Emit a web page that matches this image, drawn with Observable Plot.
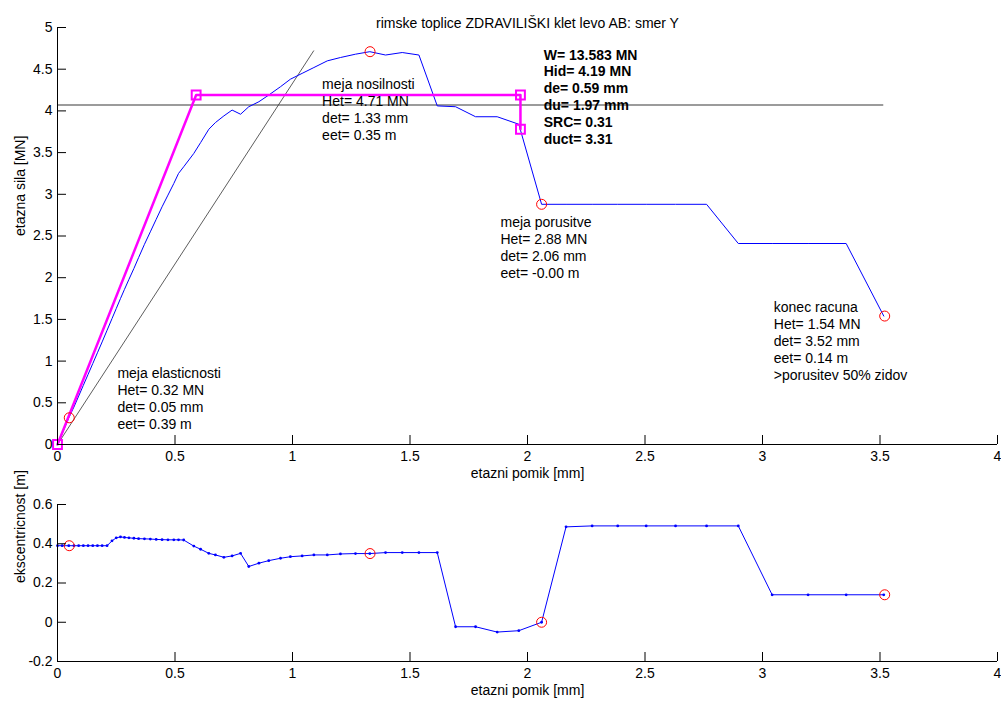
<!DOCTYPE html>
<html><head><meta charset="utf-8">
<script src="https://cdn.jsdelivr.net/npm/d3@7"></script>
<script src="https://cdn.jsdelivr.net/npm/@observablehq/plot@0.6"></script>
<style>
body{margin:0;background:#fff;}
#wrap{width:1001px;height:702px;position:relative;overflow:hidden;background:#fff}
#wrap svg{display:block}
</style></head><body><div id="wrap"></div>
<script>
const naslov = "rimske toplice ZDRAVILIŠKI klet levo AB: smer Y";
const oznakaX = "etazni pomik [mm]";
const oznakaSila = "etazna sila [MN]";
const oznakaEksc = "ekscentricnost [m]";

// analysis steps: storey displacement [mm]
const pomik = [0, 0.02, 0.048, 0.07, 0.09, 0.11, 0.13, 0.15, 0.17, 0.19,
  0.211, 0.232, 0.25, 0.268, 0.285, 0.304, 0.325, 0.345, 0.37, 0.395,
  0.42, 0.445, 0.47, 0.495, 0.515, 0.537, 0.58, 0.609, 0.644, 0.672,
  0.708, 0.743, 0.779, 0.814, 0.857, 0.899, 0.949, 0.991, 1.041, 1.091,
  1.148, 1.204, 1.268, 1.329, 1.396, 1.467, 1.538, 1.616, 1.694, 1.779,
  1.871, 1.963, 2.06, 2.164, 2.275, 2.384, 2.505, 2.63, 2.762, 2.897,
  3.041, 3.194, 3.356, 3.516];
// storey force [MN]
const sila = [0, 0.13, 0.32, 0.45, 0.58, 0.71, 0.84, 0.97, 1.10, 1.23,
  1.37, 1.51, 1.63, 1.75, 1.86, 1.98, 2.11, 2.24, 2.40, 2.55,
  2.70, 2.85, 2.99, 3.13, 3.25, 3.33, 3.49, 3.62, 3.78, 3.86,
  3.94, 4.01, 3.96, 4.05, 4.11, 4.19, 4.29, 4.38, 4.45, 4.52,
  4.60, 4.64, 4.68, 4.71, 4.67, 4.70, 4.67, 4.06, 4.05, 3.93,
  3.93, 3.84, 2.88, 2.88, 2.88, 2.88, 2.88, 2.88, 2.88, 2.41,
  2.41, 2.41, 2.41, 1.54];
// eccentricity [m]
const ekscentricnost = [0.39, 0.39, 0.39, 0.39, 0.39, 0.39, 0.39, 0.39, 0.39, 0.39,
  0.39, 0.415, 0.43, 0.435, 0.432, 0.43, 0.428, 0.426, 0.425, 0.424,
  0.422, 0.421, 0.42, 0.42, 0.42, 0.419, 0.388, 0.372, 0.351, 0.343,
  0.331, 0.338, 0.351, 0.284, 0.301, 0.314, 0.326, 0.334, 0.338, 0.343,
  0.343, 0.348, 0.35, 0.35, 0.355, 0.355, 0.355, 0.355, -0.023, -0.023,
  -0.05, -0.043, 0.0, 0.486, 0.491, 0.491, 0.491, 0.491, 0.491, 0.491,
  0.14, 0.14, 0.14, 0.14];

const xTicks = [0, 0.5, 1, 1.5, 2, 2.5, 3, 3.5, 4];
const silaTicks = [0, 0.5, 1, 1.5, 2, 2.5, 3, 3.5, 4, 4.5, 5];
const ekscTicks = [-0.2, 0, 0.2, 0.4, 0.6];

// idealized bilinear curve
const idealPomik = [0, 0.59, 1.97, 1.97];
const idealSila = [0, 4.19, 4.19, 3.78];
// characteristic points
const tockePomik = [0.05, 1.33, 2.06, 3.52];
const tockeSila = [0.32, 4.71, 2.88, 1.54];
const tockeEksc = [0.39, 0.35, 0.00, 0.14];
// secant line
const sekantaPomik = [0, 1.09];
const sekantaSila = [0, 4.72];
const mejnaSila = 4.07;

const oznakeBesedilo = [
  "meja elasticnosti\nHet= 0.32 MN\ndet= 0.05 mm\neet= 0.39 m",
  "meja nosilnosti\nHet= 4.71 MN\ndet= 1.33 mm\neet= 0.35 m",
  "meja porusitve\nHet= 2.88 MN\ndet= 2.06 mm\neet= -0.00 m",
  "konec racuna\nHet= 1.54 MN\ndet= 3.52 mm\neet= 0.14 m\n>porusitev 50% zidov"
];
const oznakePomik = [0.255, 1.126, 1.885, 3.048];
const oznakeSila = [0.945, 4.41, 2.755, 1.735];
const povzetek = ["W= 13.583 MN\nHid= 4.19 MN\nde= 0.59 mm\ndu= 1.97 mm\nSRC= 0.31\nduct= 3.31"];
const povzetekPomik = [2.069];
const povzetekSila = [4.76];

const font = "'Liberation Sans', Arial, Helvetica, sans-serif";
const krivulja = pomik.map((d, i) => ({d, h: sila[i], e: ekscentricnost[i]}));
const ideal = idealPomik.map((d, i) => ({d, h: idealSila[i]}));
const tocke = tockePomik.map((d, i) => ({d, h: tockeSila[i], e: tockeEksc[i]}));
const sekanta = sekantaPomik.map((d, i) => ({d, h: sekantaSila[i]}));
const oznake = oznakeBesedilo.map((t, i) => ({t, d: oznakePomik[i], h: oznakeSila[i]}));
const povz = povzetek.map((t, i) => ({t, d: povzetekPomik[i], h: povzetekSila[i]}));
const fmt = d => String(d);
const style = {fontFamily: font, fontSize: "14px", color: "#000", background: "#fff", overflow: "visible"};

const zgoraj = Plot.plot({
  width: 1001, height: 480,
  marginLeft: 57, marginRight: 4, marginTop: 27, marginBottom: 36,
  style,
  x: {domain: [0, 4]},
  y: {domain: [0, 5]},
  marks: [
    Plot.ruleY([mejnaSila], {x1: 0, x2: pomik[pomik.length - 1], stroke: "#7a7a7a", strokeWidth: 1.6}),
    Plot.line(sekanta, {x: "d", y: "h", stroke: "#333", strokeWidth: 0.8}),
    Plot.line(krivulja, {x: "d", y: "h", stroke: "#0000ff", strokeWidth: 1}),
    Plot.line(ideal, {x: "d", y: "h", stroke: "#ff00ff", strokeWidth: 2.5}),
    Plot.dot(ideal, {x: "d", y: "h", symbol: "square", r: 5, stroke: "#ff00ff", strokeWidth: 2, fill: "none"}),
    Plot.dot(tocke, {x: "d", y: "h", r: 5, stroke: "#ff0000", strokeWidth: 1, fill: "none"}),
    Plot.text(oznake, {x: "d", y: "h", text: "t", textAnchor: "start", lineAnchor: "top", lineHeight: 1.21, fontSize: 14, fill: "#000"}),
    Plot.text(povz, {x: "d", y: "h", text: "t", textAnchor: "start", lineAnchor: "top", lineHeight: 1.21, fontSize: 14, fontWeight: "bold", fill: "#000"}),
    Plot.ruleX([0], {stroke: "#000"}),
    Plot.ruleY([0], {stroke: "#000"}),
    Plot.axisX({ticks: xTicks, tickSize: -9, tickPadding: 16, tickFormat: fmt, label: null, fontSize: 14}),
    Plot.axisY({ticks: silaTicks, tickSize: -9, tickPadding: 14, tickFormat: fmt, label: null, fontSize: 14}),
    Plot.text([oznakaX], {frameAnchor: "bottom", dy: 24, lineAnchor: "top", text: d => d, fontSize: 14}),
    Plot.text([oznakaSila], {frameAnchor: "left", dx: -37, rotate: -90, text: d => d, fontSize: 14}),
    Plot.text([naslov], {frameAnchor: "top", dy: -9, text: d => d, fontSize: 14})
  ]
});

const spodaj = Plot.plot({
  width: 1001, height: 222,
  marginLeft: 57, marginRight: 4, marginTop: 24, marginBottom: 41,
  style,
  x: {domain: [0, 4]},
  y: {domain: [-0.2, 0.6]},
  marks: [
    Plot.line(krivulja, {x: "d", y: "e", stroke: "#0000ff", strokeWidth: 1}),
    Plot.dot(krivulja, {x: "d", y: "e", r: 1.4, fill: "#0000ff", stroke: "none"}),
    Plot.dot(tocke, {x: "d", y: "e", r: 5, stroke: "#ff0000", strokeWidth: 1, fill: "none"}),
    Plot.ruleX([0], {stroke: "#000"}),
    Plot.ruleY([-0.2], {stroke: "#000"}),
    Plot.axisX({ticks: xTicks, tickSize: -9, tickPadding: 16, tickFormat: fmt, label: null, fontSize: 14}),
    Plot.axisY({ticks: ekscTicks, tickSize: -9, tickPadding: 14, tickFormat: fmt, label: null, fontSize: 14}),
    Plot.text([oznakaX], {frameAnchor: "bottom", dy: 24, lineAnchor: "top", text: d => d, fontSize: 14}),
    Plot.text([oznakaEksc], {frameAnchor: "left", dx: -37, rotate: -90, text: d => d, fontSize: 14})
  ]
});

const wrap = document.getElementById("wrap");
wrap.append(zgoraj, spodaj);
</script></body></html>
